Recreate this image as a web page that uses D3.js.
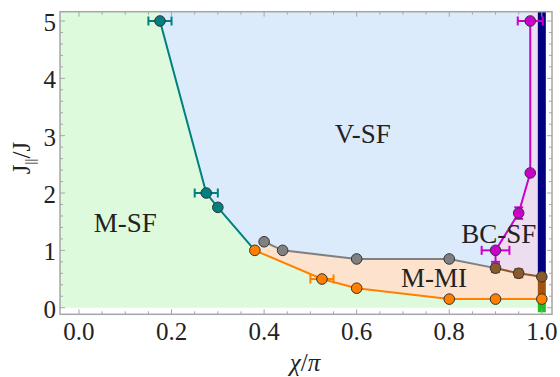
<!DOCTYPE html>
<html><head><meta charset="utf-8">
<script src="https://cdn.jsdelivr.net/npm/d3@7"></script>
<style>
body{margin:0;background:#fff}
svg text{font-family:"Liberation Serif","DejaVu Serif",serif;fill:#222}
</style>
</head><body>
<script>
// boundary points
let tealX = [0.175, 0.275, 0.30];
let tealY = [5.0, 2.0, 1.75];
let tealXerr = [0.025, 0.025, 0];

let orangeX = [0.38, 0.525, 0.60, 0.80, 0.90, 1.00];
let orangeY = [1.0, 0.5, 0.34, 0.15, 0.15, 0.15];
let orangeXerr = [0, 0.025, 0, 0, 0, 0];

let grayX = [0.40, 0.44, 0.60, 0.80];
let grayY = [1.15, 1.0, 0.85, 0.85];

let brownX = [0.90, 0.95, 1.00];
let brownY = [0.69, 0.60, 0.54];
let brownYerr = [0.07, 0.07, 0];

let magX = [0.90, 0.95, 0.975, 0.975];
let magY = [1.0, 1.65, 2.35, 5.0];
let magXerr = [0.03, 0, 0, 0.027];
let magYlo = [0.2, 0.1, 0, 0];
let magYhi = [0, 0.1, 0, 0];

// segments on the chi = pi line
let barLo = [-0.08, 0.15, 0.54];
let barHi = [0.15, 0.54, 5.162];

let xTicks = [0, 0.2, 0.4, 0.6, 0.8, 1.0];
let yTicks = [0, 1, 2, 3, 4, 5];

let phaseNames = ["M-SF", "V-SF", "BC-SF", "M-MI"];
let phaseX = [0.10, 0.613, 0.907, 0.767];
let phaseY = [1.32, 2.87, 1.13, 0.36];

(function(){
  let WIDTH = 560, HEIGHT = 377;
  let xDom = [-0.041, 1.022], yDom = [-0.115, 5.162];
  let M = {left: 60, right: 8, top: 11.7, bottom: 62.7};
  let FONT = "Liberation Serif, DejaVu Serif, serif";

  let svg = d3.select("body").append("svg")
      .attr("width", WIDTH).attr("height", HEIGHT)
      .attr("font-family", FONT);

  let x = d3.scaleLinear().domain(xDom).range([M.left, WIDTH - M.right]);
  let y = d3.scaleLinear().domain(yDom).range([HEIGHT - M.bottom, M.top]);

  let pts = (xs, ys) => xs.map((v, i) => [v, ys[i]]);
  let teal = pts(tealX, tealY), orange = pts(orangeX, orangeY),
      gray = pts(grayX, grayY), brown = pts(brownX, brownY), mag = pts(magX, magY);
  let yTop = yDom[1];

  let line = d3.line().x(d => x(d[0])).y(d => y(d[1]));
  let poly = d3.line().x(d => x(d[0])).y(d => y(d[1])).curve(d3.curveLinearClosed);

  // phase regions
  let regions = [
    {c: "#ddfadd", p: [[xDom[0], 0], [xDom[0], yTop], [1, yTop], [1, 0]]},
    {c: "#dbebfc", p: [[tealX[0], yTop]].concat(teal, [orange[0]], gray, [brown[0]],
                       mag, [[magX[magX.length-1], yTop]])},
    {c: "#fde3cd", p: orange.concat(brown.slice().reverse(), gray.slice().reverse())},
    {c: "#ecdef0", p: brown.concat([[1, yTop], [magX[magX.length-1], yTop]], mag.slice().reverse())}
  ];
  svg.selectAll("path.region").data(regions).enter().append("path")
    .attr("class", "region").attr("d", d => poly(d.p)).attr("fill", d => d.c);

  // boundary lines
  let lines = [
    {c: "#008080", p: teal.concat([orange[0]])},
    {c: "#808080", p: gray.concat([brown[0]])},
    {c: "#94561e", p: brown},
    {c: "#ff8000", p: orange},
    {c: "#cc00cc", p: mag}
  ];
  svg.selectAll("path.bline").data(lines).enter().append("path")
    .attr("class", "bline").attr("d", d => line(d.p))
    .attr("fill", "none").attr("stroke", d => d.c).attr("stroke-width", 2);

  // chi = pi bar
  let barCol = ["#1fc01f", "#a4520f", "#000080"];
  svg.selectAll("rect.bar").data(barLo).enter().append("rect")
    .attr("x", x(1) - 4).attr("width", 8)
    .attr("y", (d, i) => y(barHi[i])).attr("height", (d, i) => y(d) - y(barHi[i]))
    .attr("fill", (d, i) => barCol[i]);

  // error bars
  function errs(xs, ys, xe, ylo, yhi, col){
    let g = svg.append("g").attr("stroke", col).attr("stroke-width", 2);
    let cap = 4.5;
    xs.forEach((xv, i) => {
      let e = xe ? xe[i] : 0;
      if(e > 0){
        g.append("line").attr("x1", x(xv - e)).attr("x2", x(xv + e))
          .attr("y1", y(ys[i])).attr("y2", y(ys[i]));
        [xv - e, xv + e].forEach(c => g.append("line")
          .attr("x1", x(c)).attr("x2", x(c))
          .attr("y1", y(ys[i]) - cap).attr("y2", y(ys[i]) + cap));
      }
      let lo = ylo ? ylo[i] : 0, hi = yhi ? yhi[i] : 0;
      if(lo > 0 || hi > 0){
        g.append("line").attr("x1", x(xv)).attr("x2", x(xv))
          .attr("y1", y(ys[i] - lo)).attr("y2", y(ys[i] + hi));
        [ys[i] - lo, ys[i] + hi].forEach(c => g.append("line")
          .attr("x1", x(xv) - cap).attr("x2", x(xv) + cap)
          .attr("y1", y(c)).attr("y2", y(c)));
      }
    });
  }
  errs(tealX, tealY, tealXerr, null, null, "#008080");
  errs(orangeX, orangeY, orangeXerr, null, null, "#ff8000");
  errs(brownX, brownY, null, brownYerr, brownYerr, "#94561e");
  errs(magX, magY, magXerr, magYlo, magYhi, "#cc00cc");

  // markers
  let marks = [
    {c: "#008080", p: teal}, {c: "#808080", p: gray}, {c: "#8a5a2c", p: brown},
    {c: "#ff8000", p: orange}, {c: "#cc00cc", p: mag}
  ];
  marks.forEach(m => {
    svg.append("g").selectAll("circle").data(m.p).enter().append("circle")
      .attr("cx", d => x(d[0])).attr("cy", d => y(d[1])).attr("r", 5.3)
      .attr("fill", m.c).attr("stroke", "#333").attr("stroke-width", 1);
  });

  // frame + ticks
  let fc = "#a6a6a6";
  let fr = svg.append("g").attr("stroke", fc).attr("fill", "none");
  fr.append("rect").attr("x", M.left).attr("y", M.top)
    .attr("width", WIDTH - M.left - M.right).attr("height", HEIGHT - M.top - M.bottom)
    .attr("stroke-width", 1.5);
  let xMinor = d3.range(0, 1.0001, 0.05), yMinor = d3.range(0, 5.0001, 0.2);
  xMinor.forEach(t => {
    let L = xTicks.some(v => Math.abs(v - t) < 1e-6) ? 5 : 3;
    fr.append("line").attr("x1", x(t)).attr("x2", x(t)).attr("y1", y(yDom[0])).attr("y2", y(yDom[0]) - L);
    fr.append("line").attr("x1", x(t)).attr("x2", x(t)).attr("y1", y(yDom[1])).attr("y2", y(yDom[1]) + L);
  });
  yMinor.forEach(t => {
    let L = yTicks.some(v => Math.abs(v - t) < 1e-6) ? 5 : 3;
    fr.append("line").attr("y1", y(t)).attr("y2", y(t)).attr("x1", x(xDom[0])).attr("x2", x(xDom[0]) + L);
    fr.append("line").attr("y1", y(t)).attr("y2", y(t)).attr("x1", x(xDom[1])).attr("x2", x(xDom[1]) - L);
  });

  svg.append("g").selectAll("text").data(xTicks).enter().append("text")
    .attr("x", d => x(d)).attr("y", 340).attr("text-anchor", "middle")
    .attr("font-family", FONT).attr("font-size", 25).text(d3.format(".1f"));
  svg.append("g").selectAll("text").data(yTicks).enter().append("text")
    .attr("x", 56).attr("y", d => y(d) + 10).attr("text-anchor", "end")
    .attr("font-family", FONT).attr("font-size", 25).text(d3.format("d"));

  // axis titles
  let xl = svg.append("text").attr("x", 305).attr("y", 371).attr("text-anchor", "middle")
    .attr("font-family", FONT).attr("font-size", 25);
  xl.append("tspan").attr("font-style", "italic").text("χ");
  xl.append("tspan").text("/");
  xl.append("tspan").attr("font-style", "italic").text("π");

  let yl = svg.append("text").attr("transform", "translate(30,158) rotate(-90)")
    .attr("text-anchor", "middle").attr("font-family", FONT).attr("font-size", 25);
  yl.append("tspan").text("J");
  yl.append("tspan").attr("font-size", 15).attr("dy", 5).text("||");
  yl.append("tspan").attr("dy", -5).text("/J");

  // phase labels
  svg.append("g").selectAll("text").data(phaseNames).enter().append("text")
    .attr("x", (d, i) => x(phaseX[i])).attr("y", (d, i) => y(phaseY[i]))
    .attr("text-anchor", "middle").attr("font-family", FONT).attr("font-size", 27).text(d => d);
})();
</script>
</body></html>
